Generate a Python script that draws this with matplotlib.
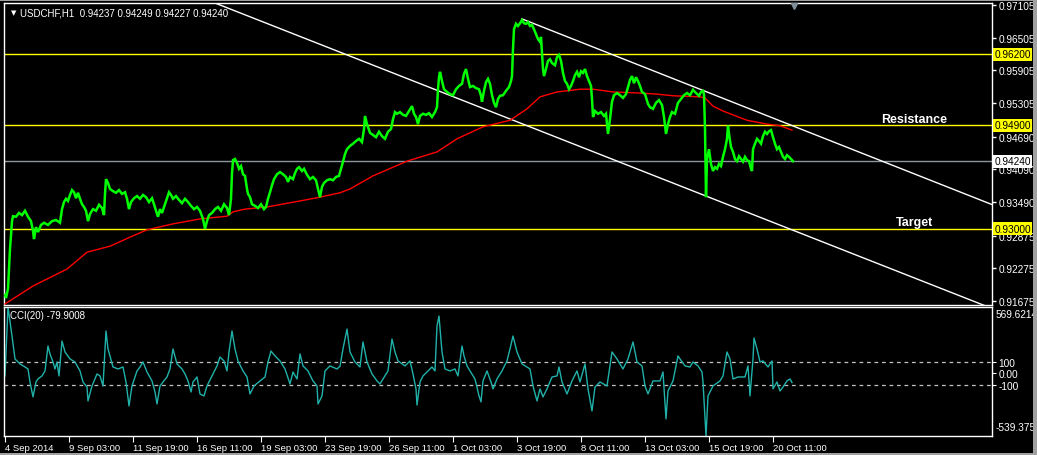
import matplotlib
matplotlib.use("Agg")
import matplotlib.pyplot as plt
import matplotlib.transforms as mtransforms
from matplotlib.patches import Rectangle

# bar index = H1 bars since 4 Sep 2014 (weekends skipped)
price_bar = [
    0, 1, 3, 4, 5, 6, 7, 8, 11, 14, 17, 20,
    23, 26, 28, 29, 31, 33, 36, 39, 43, 47, 51, 55,
    57, 59, 61, 63, 65, 67, 69, 71, 73, 75, 77, 79,
    81, 83, 85, 88, 91, 94, 97, 99, 100, 101, 103, 105,
    108, 111, 114, 117, 120, 122, 124, 126, 129, 132, 135, 138,
    141, 144, 147, 149, 151, 153, 155, 157, 160, 162, 164, 166,
    168, 171, 174, 177, 180, 183, 186, 189, 192, 195, 198, 200,
    202, 204, 207, 210, 213, 216, 219, 222, 224, 226, 227, 228,
    230, 232, 234, 236, 238, 240, 242, 243, 245, 247, 250, 253,
    256, 259, 261, 263, 265, 267, 269, 272, 275, 278, 281, 283,
    285, 288, 290, 292, 294, 297, 299, 302, 305, 308, 311, 313,
    315, 317, 319, 322, 325, 328, 331, 334, 336, 338, 340, 342,
    345, 348, 351, 354, 357, 359, 360, 362, 365, 368, 371, 374,
    377, 380, 383, 386, 388, 390, 392, 395, 398, 401, 404, 407,
    409, 411, 413, 415, 418, 421, 424, 427, 430, 432, 433, 434,
    435, 437, 439, 442, 445, 448, 451, 454, 457, 459, 461, 463,
    465, 468, 471, 474, 476, 477, 479, 481, 483, 485, 487, 489,
    491, 493, 495, 498, 501, 504, 506, 507, 508, 509, 511, 513,
    515, 517, 519, 521, 523, 525, 527, 529, 531, 533, 535, 536,
    537, 538, 539, 541, 543, 545, 547, 550, 552, 554, 556, 558,
    560, 562, 564, 566, 568, 570, 572, 574, 576, 578, 580, 582,
    584, 586, 587, 588, 590, 593, 596, 599, 601, 603, 605, 607,
    609, 612, 615, 618, 621, 623, 625, 627, 629, 631, 633, 635,
    637, 640, 643, 645, 648, 651, 654, 657, 659, 661, 663, 665,
    667, 670, 673, 676, 679, 682, 685, 688, 691, 694, 696, 698,
    699, 700, 701, 702, 704, 706, 708, 710, 712, 714, 716, 718,
    720, 722, 723, 724, 726, 728, 730, 732, 734, 736, 738, 740,
    742, 744, 746, 747, 748, 750, 752, 754, 756, 758, 760, 762,
    764, 766, 768, 770, 772, 774, 776, 778, 780, 782, 784, 786,
    788,
]
price_close = [
    0.9179, 0.9173, 0.9190, 0.9226, 0.9263, 0.9290, 0.9314, 0.9323, 0.9322, 0.9329, 0.9325, 0.9333,
    0.9322, 0.9314, 0.9296, 0.9281, 0.9303, 0.9294, 0.9307, 0.9311, 0.9307, 0.9314, 0.9316, 0.9311,
    0.9336, 0.9349, 0.9355, 0.9351, 0.9362, 0.9371, 0.9367, 0.9356, 0.9366, 0.9355, 0.9345, 0.9340,
    0.9333, 0.9314, 0.9327, 0.9336, 0.9333, 0.9344, 0.9338, 0.9325, 0.9364, 0.9391, 0.9384, 0.9373,
    0.9369, 0.9366, 0.9371, 0.9364, 0.9367, 0.9355, 0.9336, 0.9349, 0.9356, 0.9360, 0.9355, 0.9362,
    0.9358, 0.9349, 0.9356, 0.9345, 0.9333, 0.9322, 0.9336, 0.9329, 0.9345, 0.9356, 0.9367, 0.9362,
    0.9355, 0.9360, 0.9353, 0.9347, 0.9355, 0.9349, 0.9342, 0.9336, 0.9340, 0.9333, 0.9318, 0.9300,
    0.9314, 0.9325, 0.9329, 0.9336, 0.9340, 0.9333, 0.9345, 0.9338, 0.9325, 0.9355, 0.9402, 0.9426,
    0.9428, 0.9421, 0.9410, 0.9415, 0.9400, 0.9397, 0.9373, 0.9364, 0.9358, 0.9345, 0.9342, 0.9338,
    0.9345, 0.9336, 0.9340, 0.9355, 0.9367, 0.9380, 0.9391, 0.9400, 0.9404, 0.9400, 0.9395, 0.9386,
    0.9395, 0.9391, 0.9402, 0.9410, 0.9413, 0.9406, 0.9410, 0.9399, 0.9391, 0.9395, 0.9389, 0.9373,
    0.9358, 0.9377, 0.9384, 0.9389, 0.9391, 0.9389, 0.9395, 0.9397, 0.9410, 0.9423, 0.9437, 0.9446,
    0.9452, 0.9456, 0.9461, 0.9465, 0.9459, 0.9483, 0.9507, 0.9492, 0.9476, 0.9472, 0.9468, 0.9478,
    0.9470, 0.9465, 0.9478, 0.9483, 0.9501, 0.9514, 0.9511, 0.9514, 0.9509, 0.9507, 0.9516, 0.9525,
    0.9511, 0.9505, 0.9492, 0.9507, 0.9511, 0.9509, 0.9512, 0.9505, 0.9514, 0.9523, 0.9556, 0.9578,
    0.9588, 0.9571, 0.9556, 0.9551, 0.9547, 0.9545, 0.9556, 0.9562, 0.9566, 0.9584, 0.9593, 0.9575,
    0.9560, 0.9562, 0.9558, 0.9556, 0.9544, 0.9533, 0.9553, 0.9569, 0.9575, 0.9566, 0.9545, 0.9531,
    0.9523, 0.9538, 0.9544, 0.9545, 0.9553, 0.9560, 0.9571, 0.9580, 0.9630, 0.9666, 0.9676, 0.9672,
    0.9677, 0.9683, 0.9677, 0.9676, 0.9679, 0.9672, 0.9674, 0.9666, 0.9657, 0.9648, 0.9643, 0.9652,
    0.9621, 0.9593, 0.9580, 0.9593, 0.9608, 0.9611, 0.9604, 0.9600, 0.9615, 0.9619, 0.9608, 0.9586,
    0.9571, 0.9566, 0.9556, 0.9562, 0.9571, 0.9582, 0.9588, 0.9578, 0.9589, 0.9586, 0.9593, 0.9580,
    0.9571, 0.9562, 0.9538, 0.9505, 0.9516, 0.9511, 0.9514, 0.9507, 0.9511, 0.9474, 0.9501, 0.9533,
    0.9545, 0.9549, 0.9545, 0.9540, 0.9547, 0.9560, 0.9573, 0.9580, 0.9567, 0.9578, 0.9571, 0.9562,
    0.9551, 0.9547, 0.9529, 0.9523, 0.9520, 0.9531, 0.9536, 0.9527, 0.9505, 0.9474, 0.9492, 0.9505,
    0.9514, 0.9511, 0.9531, 0.9538, 0.9545, 0.9549, 0.9545, 0.9555, 0.9549, 0.9544, 0.9551, 0.9553,
    0.9547, 0.9483, 0.9358, 0.9428, 0.9446, 0.9419, 0.9406, 0.9413, 0.9410, 0.9419, 0.9415, 0.9432,
    0.9446, 0.9465, 0.9489, 0.9474, 0.9450, 0.9441, 0.9428, 0.9424, 0.9433, 0.9428, 0.9423, 0.9432,
    0.9426, 0.9424, 0.9410, 0.9406, 0.9446, 0.9456, 0.9465, 0.9461, 0.9456, 0.9470, 0.9478, 0.9474,
    0.9479, 0.9481, 0.9468, 0.9456, 0.9446, 0.9450, 0.9441, 0.9432, 0.9428, 0.9435, 0.9432, 0.9428,
    0.9424,
]

ma_bar = [0, 28, 62, 82, 105, 128, 142, 168, 195, 222, 228, 240, 262, 295, 315, 335,
          345, 368, 402, 432, 452, 478, 505, 522, 535, 552, 575, 588, 608, 635, 652,
          668, 695, 700, 708, 718, 742, 762, 775, 787]
ma_value = [0.9162, 0.9195, 0.9226, 0.9257, 0.9268, 0.9287, 0.9298, 0.9309, 0.9318, 0.9323,
            0.9331, 0.9336, 0.9340, 0.9351, 0.9358, 0.9366, 0.9373, 0.9397, 0.9424, 0.9441,
            0.9465, 0.9487, 0.9499, 0.9520, 0.9542, 0.9551, 0.9556, 0.9556, 0.9551, 0.9549,
            0.9547, 0.9544, 0.9542, 0.9540, 0.9525, 0.9516, 0.9499, 0.9492, 0.9489, 0.9481]

cci_bar = [
    0, 3, 7, 10, 15, 20, 23, 25, 28, 31, 33, 37,
    40, 43, 45, 48, 50, 52, 54, 57, 60, 65, 70, 75,
    78, 82, 83, 87, 92, 95, 98, 101, 103, 108, 113, 118,
    121, 124, 127, 132, 135, 138, 142, 147, 150, 152, 155, 158,
    162, 165, 168, 172, 177, 180, 183, 186, 188, 192, 195, 199,
    202, 207, 212, 215, 219, 222, 224, 227, 230, 233, 238, 242,
    245, 249, 255, 260, 263, 266, 270, 275, 280, 285, 288, 292,
    295, 298, 303, 308, 312, 313, 317, 320, 325, 332, 335, 338,
    342, 345, 350, 355, 358, 362, 367, 372, 375, 378, 383, 387,
    390, 393, 400, 405, 408, 411, 412, 415, 418, 423, 427, 430,
    432, 434, 437, 440, 445, 450, 453, 457, 459, 462, 465, 470,
    474, 476, 478, 482, 486, 488, 492, 497, 502, 505, 508, 512,
    517, 525, 528, 532, 535, 538, 542, 547, 552, 554, 557, 562,
    567, 572, 575, 580, 583, 587, 590, 595, 602, 607, 612, 618,
    623, 628, 632, 637, 640, 643, 648, 655, 658, 661, 663, 668,
    673, 675, 680, 685, 688, 693, 697, 698, 701, 703, 708, 715,
    718, 722, 725, 728, 733, 740, 743, 745, 748, 749, 752, 755,
    758, 763, 767, 768, 772, 775, 778, 782, 785, 787,
]
cci_value = [
    -23, 569.6, 320, 123, 80, 54, 37, -75, -203, -75, -49, -23,
    20, 234, 166, 97, 37, 97, -23, 277, 183, 123, 97, 20,
    -75, -118, -238, -109, -6, -23, -109, 363, 209, 54, 37, 54,
    -75, -281, -109, 20, 54, 97, 11, -66, -161, -264, -109, -75,
    -32, 37, 209, 80, 37, -6, -66, -161, -75, -32, -178, -195,
    -109, -23, 63, 140, 106, 20, 183, 363, 209, 106, 20, -32,
    -178, -109, -66, -32, 97, 191, 149, 106, 37, -92, 11, -49,
    166, 63, 20, -66, -109, -264, -195, 20, 63, 37, 60, 209,
    380, 183, 97, 54, 269, 97, -6, -66, -92, -49, 20, 294,
    183, 106, 63, 106, -6, -134, -273, -75, -23, 20, 54, 20,
    406, 492, 183, 37, 20, 37, -23, 234, 149, 63, 20, -49,
    -195, -246, -66, 20, -75, -134, -49, 20, 106, 209, 320, 183,
    80, 37, -109, -238, -134, -203, -134, -32, -23, 54, -75, -178,
    -66, 20, -75, 80, -134, -324, -118, -75, -109, 183, 123, 37,
    123, 269, 97, 63, -109, -178, -66, -66, 11, -392, -152, -66,
    149, 123, 63, 54, 97, 63, 11, -75, -539.4, -195, -109, -66,
    -23, 183, 123, -49, -32, -32, 63, -195, 123, 303, 209, 97,
    106, 54, 106, -134, -75, -152, -118, -66, -49, -79.9,
]

levels = [0.9620, 0.9490, 0.9300]
bid_price = 0.9424
channel_lower = [(213, 0.9712), (970, 0.9166)]
channel_upper = [(517, 0.9685), (695, 0.9556)]
price_ticks = [0.97105, 0.96505, 0.95905, 0.95305, 0.94690, 0.94090, 0.93490,
               0.92875, 0.92275, 0.91675]
time_tick_bars = [0, 64, 128, 192, 256, 320, 384, 448, 512, 576, 640, 704, 768]
time_tick_labels = ["4 Sep 2014", "9 Sep 03:00", "11 Sep 19:00", "16 Sep 11:00",
                    "19 Sep 03:00", "23 Sep 19:00", "26 Sep 11:00", "1 Oct 03:00",
                    "3 Oct 19:00", "8 Oct 11:00", "13 Oct 03:00", "15 Oct 19:00",
                    "20 Oct 11:00"]

plt.rcParams["font.family"] = ["Liberation Sans", "DejaVu Sans"]
W, H = 1037, 456
fig = plt.figure(figsize=(W / 100, H / 100), dpi=100, facecolor="black")

# window frame: gray strips around the terminal area
for (x0, y0, w, h) in [(0, 454, W, 2), (1033, 0, 4, H), (0, 0, W, 2)]:
    fig.patches.append(Rectangle((x0 / W, y0 / H), w / W, h / H, transform=fig.transFigure,
                                 facecolor="#a0a0a0", edgecolor="none"))

ax = fig.add_axes([4 / W, (H - 306) / H, 988 / W, 302 / H], facecolor="black")
ax2 = fig.add_axes([4 / W, (H - 437) / H, 988 / W, 129 / H], facecolor="black")

xlim = (-1, 987)
for a in (ax, ax2):
    a.set_xlim(*xlim)
    for s in a.spines.values():
        s.set_color("white")
        s.set_linewidth(1)

ax.set_ylim(0.91601, 0.97142)
ax2.set_ylim(-539.3758, 569.6214)

# horizontal levels
for lv in levels:
    ax.axhline(lv, color="#ffff00", lw=1, zorder=2)
ax.axhline(bid_price, color="#8c96a0", lw=1, zorder=2)

# channel lines (rays clipped by the window)
(xa, ya), (xb, yb) = channel_lower
k = (yb - ya) / (xb - xa)
ax.plot([xlim[0], xlim[1]], [ya + k * (xlim[0] - xa), ya + k * (xlim[1] - xa)],
        color="white", lw=1, zorder=3)
(xa, ya), (xb, yb) = channel_upper
k = (yb - ya) / (xb - xa)
ax.plot([xa, xlim[1]], [ya, ya + k * (xlim[1] - xa)], color="white", lw=1, zorder=3)

ax.plot(ma_bar, ma_value, color="#ff0000", lw=1, zorder=4)
ax.plot(price_bar, price_close, color="#00ff00", lw=1.8, zorder=5, solid_joinstyle="miter")

ax.text(909, 0.9501, "Resistance", color="white", fontsize=9, fontweight="bold",
        ha="center", va="center")
ax.text(909, 0.9313, "Target", color="white", fontsize=9, fontweight="bold",
        ha="center", va="center")

ax.text(0.007, 0.970, "\u25bc", transform=ax.transAxes, color="white", fontsize=5,
        family="DejaVu Sans", ha="left", va="center")
ax.text(0.0165, 0.970, "USDCHF,H1  0.94237 0.94249 0.94227 0.94240", transform=ax.transAxes,
        color="white", fontsize=7, ha="left", va="center")

# shift marker at top
tr = mtransforms.blended_transform_factory(ax.transData, ax.transAxes)
ax.plot([789], [0.99], marker="v", ms=5, color="#7f8c99", transform=tr, clip_on=False, zorder=6)

ax.set_xticks([])
ax.yaxis.tick_right()
ax.set_yticks(price_ticks)
ax.set_yticklabels([f"{v:.5f}" for v in price_ticks])
ax.tick_params(axis="y", colors="white", labelsize=7.3, length=3, pad=1.5, width=1)

lab_tr = mtransforms.blended_transform_factory(ax.transAxes, ax.transData)
for lv in levels:
    ax.text(1.0022, lv, f"{lv:.5f}", transform=lab_tr, color="black", fontsize=7.3,
            ha="left", va="center", zorder=10, clip_on=False,
            bbox=dict(boxstyle="square,pad=0.15", fc="#ffff00", ec="none"))
ax.text(1.0022, bid_price, f"{bid_price:.5f}", transform=lab_tr, color="black", fontsize=7.3,
        ha="left", va="center", zorder=10, clip_on=False,
        bbox=dict(boxstyle="square,pad=0.15", fc="white", ec="none"))

# CCI sub-window
for lv in (100, -100):
    ax2.axhline(lv, color="#c0c0c0", lw=0.9, ls=(0, (3, 3)))
ax2.plot(cci_bar, cci_value, color="#20b2aa", lw=1)
ax2.text(0.006, 0.94, "CCI(20) -79.9008", transform=ax2.transAxes, color="white",
         fontsize=7, ha="left", va="center")

ax2.yaxis.tick_right()
ax2.set_yticks([100, 0, -100])
ax2.set_yticklabels(["100", "0.00", "-100"])
ax2.tick_params(axis="y", colors="white", labelsize=7.3, length=3, pad=1.5)
ax2.text(1.0035, 0.946, "569.6214", transform=ax2.transAxes, color="white", fontsize=7.3,
         ha="left", va="center", clip_on=False)
ax2.text(1.0035, 0.07, "-539.3758", transform=ax2.transAxes, color="white", fontsize=7.3,
         ha="left", va="center", clip_on=False)

ax2.set_xticks(time_tick_bars)
ax2.set_xticklabels(time_tick_labels)
ax2.tick_params(axis="x", colors="white", labelsize=6.8, length=4, pad=1)
plt.setp(ax2.get_xticklabels(), ha="left")

fig.savefig("out.png", dpi=100, facecolor="black")
